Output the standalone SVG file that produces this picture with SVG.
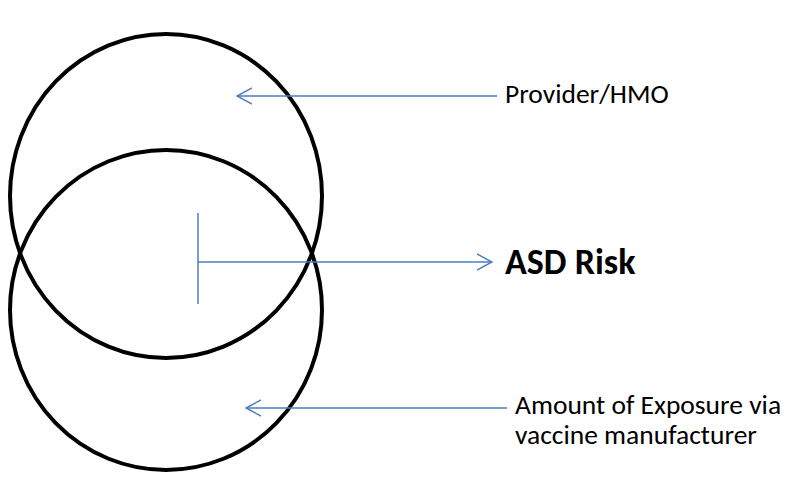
<svg xmlns="http://www.w3.org/2000/svg" width="785" height="502" viewBox="0 0 785 502">
<style>
.c{fill:none;stroke:#000;stroke-width:4}
.a{fill:none;stroke:#4A7EBB;stroke-width:1.5}
.t{font-family:Calibri,Carlito,"Open Sans","Liberation Sans",sans-serif;font-size:27.5px;fill:#000}
.b{font-family:Calibri,Carlito,"Open Sans","Liberation Sans",sans-serif;font-size:36px;font-weight:bold;fill:#000}
</style>
<defs>
<marker id="h" viewBox="0 0 16 18" refX="15" refY="9" markerWidth="16" markerHeight="18" markerUnits="userSpaceOnUse" orient="auto">
<path d="M0,1 L15,9 L0,17" fill="none" stroke="#4A7EBB" stroke-width="1.5"/>
</marker>
</defs>
<rect width="785" height="502" fill="#fff"/>
<g id="provider-circle"><ellipse class="c" cx="166" cy="196" rx="156" ry="162"/></g>
<g id="exposure-circle"><ellipse class="c" cx="166" cy="310" rx="156" ry="160"/></g>
<g id="connectors">
<line class="a" x1="497" y1="96" x2="237" y2="96" marker-end="url(#h)"/>
<line class="a" x1="198" y1="213" x2="198" y2="304"/>
<line class="a" x1="198" y1="262" x2="492" y2="262" marker-end="url(#h)"/>
<line class="a" x1="507" y1="408" x2="246" y2="408" marker-end="url(#h)"/>
</g>
<g id="label-provider"><text class="t" x="505" y="103">Provider/HMO</text></g>
<g id="label-asd"><text class="b" x="505" y="274">ASD Risk</text></g>
<g id="label-exposure"><text class="t" x="515" y="414">Amount of Exposure via</text><text class="t" x="515" y="444">vaccine manufacturer</text></g>
</svg>
